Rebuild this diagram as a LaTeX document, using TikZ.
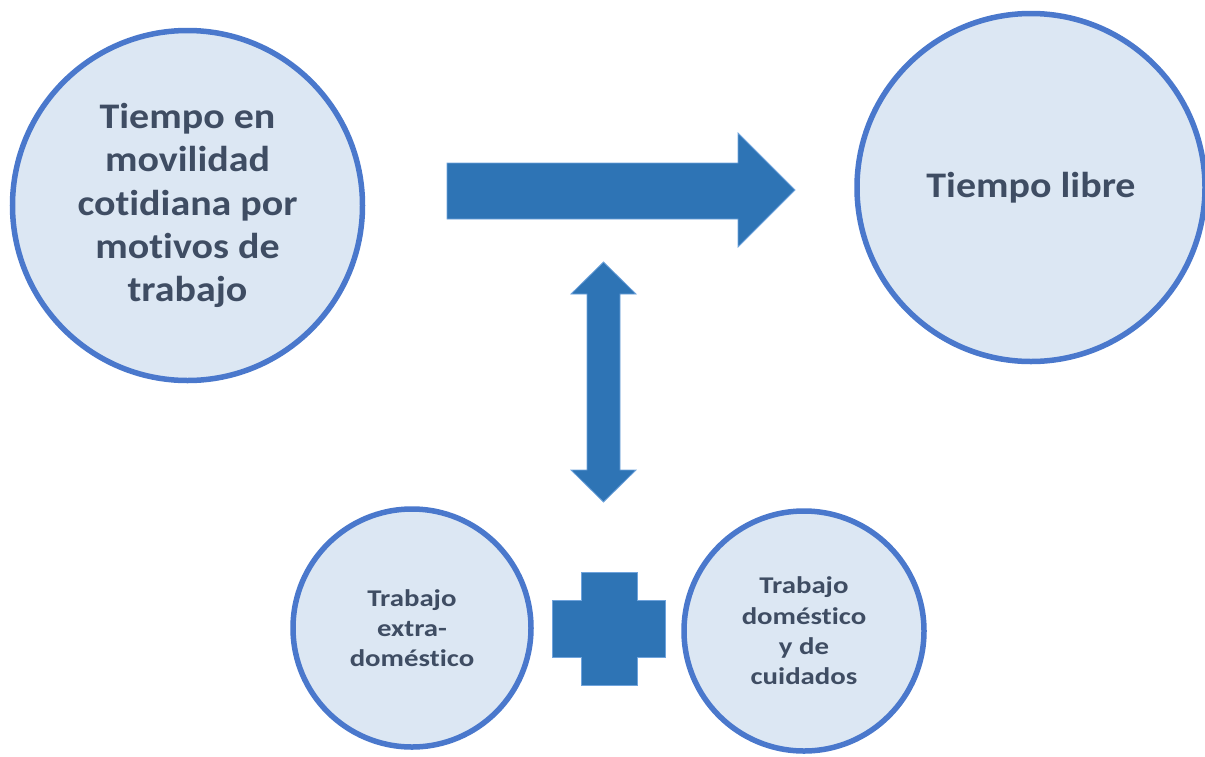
\documentclass[tikz,border=0pt]{standalone}
\usepackage{fontspec}
\setmainfont{Carlito}[RawFeature={-liga}]
\newfontfamily\bigfont{Carlito}[RawFeature={-liga}, FakeStretch=1.11]
\newfontfamily\smallfont{Carlito}[RawFeature={-liga}, FakeStretch=1.2]
\definecolor{ringblue}{HTML}{4A78CC}
\definecolor{ringlight}{HTML}{9FBDEB}
\definecolor{bubblefill}{HTML}{DCE7F3}
\definecolor{txtcol}{HTML}{3F4D63}
\definecolor{arrowblue}{HTML}{2E74B5}
\definecolor{arrowlight}{HTML}{6FA3DC}
\tikzset{
  bubble/.style={circle, draw=ringblue, line width=5.5pt, fill=bubblefill,
    text=txtcol, inner sep=0pt, align=center},
  bigtext/.style={font=\bigfont\bfseries\fontsize{36}{43.3}\selectfont},
  smalltext/.style={font=\smallfont\bfseries\fontsize{24}{30.3}\selectfont},
  blockarrow/.style={fill=arrowblue, draw=arrowlight, line width=0.8pt, line join=miter}
}
\begin{document}
\begin{tikzpicture}[x=1pt,y=-1pt]
\useasboundingbox (0,0) rectangle (1205,756);

% circles
\node[bubble, bigtext, minimum size=350pt] (mov) at (187.5,205.5)
  {Tiempo en\\movilidad\\cotidiana por\\motivos de\\trabajo};
\node[bubble, bigtext, minimum size=348pt] (libre) at (1031,187.5) {Tiempo libre};
\node[bubble, smalltext, minimum size=238pt] (extra) at (412,628)
  {Trabajo\\extra-\\doméstico};
\node[bubble, smalltext, minimum size=240pt] (dom) at (804,631)
  {Trabajo\\doméstico\\y de\\cuidados};

% big right arrow
\coordinate (rb) at (795,190);
\draw[blockarrow] (447,163) -- (738,163) -- (738,133) -- (rb) -- (738,247)
  -- (738,219) -- (447,219) -- cycle;

% double vertical arrow
\coordinate (ut) at (603.5,262);
\coordinate (dt) at (603.5,502);
\draw[blockarrow] (ut) -- (636,294) -- (620,294) -- (620,470) -- (636,470)
  -- (dt) -- (571,470) -- (587,470) -- (587,294) -- (571,294) -- cycle;

% plus sign
\draw[blockarrow] (581,572) -- (637,572) -- (637,600) -- (665,600) -- (665,657)
  -- (637,657) -- (637,685) -- (581,685) -- (581,657) -- (552,657)
  -- (552,600) -- (581,600) -- cycle;
\end{tikzpicture}
\end{document}
